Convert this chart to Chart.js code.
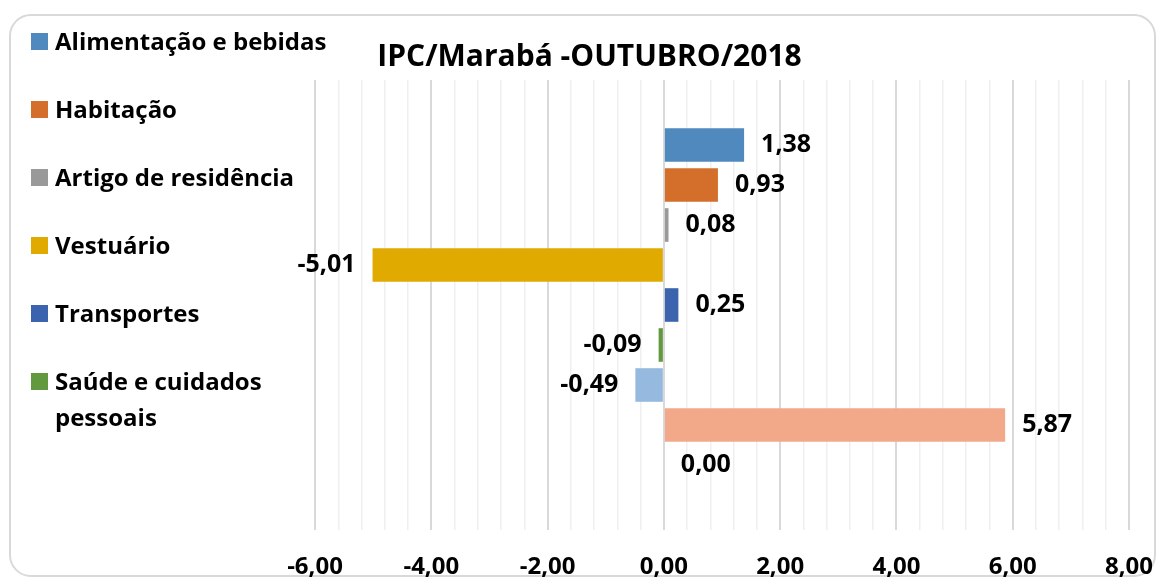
<!DOCTYPE html>
<html>
<head>
<meta charset="utf-8">
<script src="https://cdn.jsdelivr.net/npm/chart.js@4/dist/chart.umd.min.js"></script>
<style>
    html, body { margin: 0; padding: 0; background: #fff; }
    #wrap { position: relative; width: 1159px; height: 581px; overflow: hidden; }
    #frame {
        position: absolute; left: 9px; top: 14px; width: 1147px; height: 563px;
        border: 2px solid #d9d9d9; border-radius: 22px; box-sizing: border-box;
    }
    #chart { position: absolute; left: 0; top: 0; }
    #legend { position: absolute; left: 31px; top: 0; font-family: "Open Sans", sans-serif; font-weight: bold; font-size: 24px; color: #000; }
    .item { position: absolute; left: 0; white-space: nowrap; line-height: 36px; }
    .box { position: absolute; left: 0; width: 17px; height: 17px; top: 10px; }
    .txt { position: absolute; left: 24px; top: 0; }
</style>
</head>
<body>
<div id="wrap">
    <div id="frame"></div>
    <canvas id="chart" width="1159" height="581"></canvas>
    <div id="legend"></div>
</div>
<script>
// séries do IPC (uma barra por grupo)
const seriesNames = [
    "Alimentação e bebidas",
    "Habitação",
    "Artigo de residência",
    "Vestuário",
    "Transportes",
    "Saúde e cuidados pessoais",
    "Despesas pessoais",
    "Educação",
    "Comunicação"
];
const seriesValues = [1.38, 0.93, 0.08, -5.01, 0.25, -0.09, -0.49, 5.87, 0.00];
const seriesColors = ["#4f89bd", "#d46e2b", "#999999", "#e0aa00", "#3c64ae", "#62993e", "#96b9e0", "#f1a98a", "#c5a000"];
const legendCount = 6; // só as seis primeiras aparecem na legenda
const xMin = -6, xMax = 8, xStep = 0.4, xMajor = 2;

const fmt = v => v.toFixed(2).replace('.', ',');
const isMajor = v => Math.abs(v / xMajor - Math.round(v / xMajor)) < 1e-6;

// legenda em HTML (o texto quebra em duas linhas no original)
const legendEl = document.getElementById('legend');
const legendTops = [23, 91, 159, 227, 295, 363];
for (let i = 0; i < legendCount; i++) {
    const div = document.createElement('div');
    div.className = 'item';
    div.style.top = legendTops[i] + 'px';
    let name = seriesNames[i];
    if (name === "Saúde e cuidados pessoais") name = "Saúde e cuidados<br>pessoais";
    div.innerHTML = `<span class="box" style="background:${seriesColors[i]}"></span><span class="txt">${name}</span>`;
    legendEl.appendChild(div);
}

// rótulos de valor ao lado de cada barra
const valueLabels = {
    id: 'valueLabels',
    afterDatasetsDraw(chart) {
        const ctx = chart.ctx;
        ctx.save();
        ctx.font = 'bold 25px "Open Sans", sans-serif';
        ctx.fillStyle = '#000';
        ctx.textBaseline = 'middle';
        chart.data.datasets.forEach((ds, i) => {
            const bar = chart.getDatasetMeta(i).data[0];
            const v = ds.data[0];
            if (v < 0) {
                ctx.textAlign = 'right';
                ctx.fillText(fmt(v), bar.x - 17, bar.y);
            } else {
                ctx.textAlign = 'left';
                ctx.fillText(fmt(v), bar.x + 17, bar.y);
            }
        });
        ctx.restore();
    }
};

new Chart(document.getElementById('chart'), {
    type: 'bar',
    data: {
        labels: [''],
        datasets: seriesNames.map((name, i) => ({
            label: name,
            data: [seriesValues[i]],
            backgroundColor: seriesColors[i],
            borderWidth: 0,
            categoryPercentage: 0.8,
            barPercentage: 0.84
        }))
    },
    options: {
        indexAxis: 'y',
        responsive: false,
        animation: false,
        layout: { padding: { left: 50, right: 30, top: 0, bottom: 3 } },
        plugins: {
            legend: { display: false },
            tooltip: { enabled: false },
            title: {
                display: true,
                text: 'IPC/Marabá -OUTUBRO/2018',
                color: '#000',
                font: { family: '"Open Sans", sans-serif', size: 30, weight: 'bold' },
                padding: { top: 39, bottom: 5 }
            }
        },
        scales: {
            x: {
                min: xMin, max: xMax,
                border: { display: false },
                grid: {
                    drawTicks: false,
                    color: c => isMajor(c.tick.value) ? '#d9d9d9' : '#efefef',
                    lineWidth: c => isMajor(c.tick.value) ? 2 : 1.5
                },
                ticks: {
                    stepSize: xStep,
                    autoSkip: false,
                    maxRotation: 0,
                    padding: 23,
                    color: '#000',
                    font: { family: '"Open Sans", sans-serif', size: 24, weight: 'bold' },
                    callback: v => isMajor(v) ? fmt(v) : ''
                },
                afterFit: s => { s.height = 48; s.paddingLeft = 0; s.paddingRight = 0; }
            },
            y: {
                border: { display: false },
                grid: { display: false },
                ticks: { display: false },
                afterFit: s => { s.width = 265; }
            }
        }
    },
    plugins: [valueLabels]
});
</script>
</body>
</html>
